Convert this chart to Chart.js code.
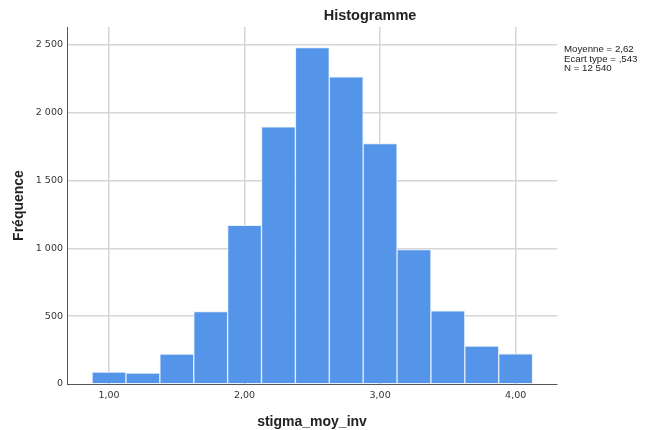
<!DOCTYPE html>
<html>
<head>
<meta charset="utf-8">
<script src="https://cdn.jsdelivr.net/npm/chart.js@4/dist/chart.umd.min.js"></script>
<style>
  html, body { margin: 0; padding: 0; background: #fff; }
  #chart { display: block; }
</style>
</head>
<body>
<canvas id="chart" width="646" height="430"></canvas>
<script>
/* ── Data ── */
const binCenters = [1.00, 1.25, 1.50, 1.75, 2.00, 2.25, 2.50, 2.75, 3.00, 3.25, 3.50, 3.75, 4.00];
const counts     = [88, 81, 220, 534, 1169, 1894, 2478, 2262, 1772, 990, 539, 279, 223];
const xTicks      = [1, 2, 3, 4];
const xTickLabels = ['1,00', '2,00', '3,00', '4,00'];
const yTicks      = [0, 500, 1000, 1500, 2000, 2500];
const yTickLabels = ['0', '500', '1 000', '1 500', '2 000', '2 500'];
const statsLines  = ['Moyenne = 2,62', 'Ecart type = ,543', 'N = 12 540'];

const FONT = "'Liberation Sans', Arial, sans-serif";
const TICK_FONT = "'DejaVu Sans', sans-serif";

// ── Title + stats box ─────────────────────────
const annotations = {
  id: 'annotations',
  afterDraw(chart) {
    const ctx = chart.ctx;
    ctx.save();
    ctx.fillStyle = '#222';
    ctx.textBaseline = 'middle';
    ctx.textAlign = 'center';
    ctx.font = `bold 14.5px ${FONT}`;
    ctx.fillText('Histogramme', 370, 16);
    ctx.textAlign = 'left';
    ctx.font = `9.7px ${FONT}`;
    statsLines.forEach((s, i) => ctx.fillText(s, 564, 49.5 + i * 9.5));
    ctx.restore();
  }
};

new Chart(document.getElementById('chart').getContext('2d'), {
  type: 'bar',
  data: {
    datasets: [{
      data: binCenters.map((x, i) => ({ x, y: counts[i] })),
      backgroundColor: '#5495e9',
      borderColor: '#e4eefc',
      borderWidth: 1,
      barPercentage: 1,
      categoryPercentage: 1
    }]
  },
  options: {
    responsive: false,
    animation: false,
    layout: { padding: { top: 27, right: 89, left: 0, bottom: 0 } },
    plugins: { legend: { display: false }, tooltip: { enabled: false } },
    scales: {
      x: {
        type: 'linear',
        offset: false,
        min: 0.69, max: 4.305,
        afterBuildTicks: s => { s.ticks = xTicks.map(v => ({ value: v })); },
        afterFit: s => { s.height = 46; },
        ticks: {
          color: '#333', font: { family: TICK_FONT, size: 9.5 }, padding: 6,
          callback: (v) => xTickLabels[xTicks.indexOf(v)]
        },
        grid: { color: '#d6d6d6', lineWidth: 1.5, drawTicks: false, offset: false },
        border: { color: '#555', width: 1 },
        title: {
          display: true, text: 'stigma_moy_inv', color: '#222',
          font: { family: FONT, size: 14, weight: 'bold' }, padding: { top: 14, bottom: -1 }
        }
      },
      y: {
        min: 0, max: 2630,
        afterBuildTicks: s => { s.ticks = yTicks.map(v => ({ value: v })); },
        afterFit: s => { s.width = 67; },
        ticks: {
          color: '#333', font: { family: TICK_FONT, size: 9.5 }, padding: 4,
          callback: (v) => yTickLabels[yTicks.indexOf(v)]
        },
        grid: {
          color: ctx => ctx.tick && ctx.tick.value === 0 ? 'rgba(0,0,0,0)' : '#d6d6d6',
          lineWidth: 1.5, drawTicks: false
        },
        border: { color: '#555', width: 1 },
        title: {
          display: true, text: 'Fréquence', color: '#222',
          font: { family: FONT, size: 14, weight: 'bold' }, padding: { top: 11, bottom: 0 }
        }
      }
    }
  },
  plugins: [annotations]
});
</script>
</body>
</html>
